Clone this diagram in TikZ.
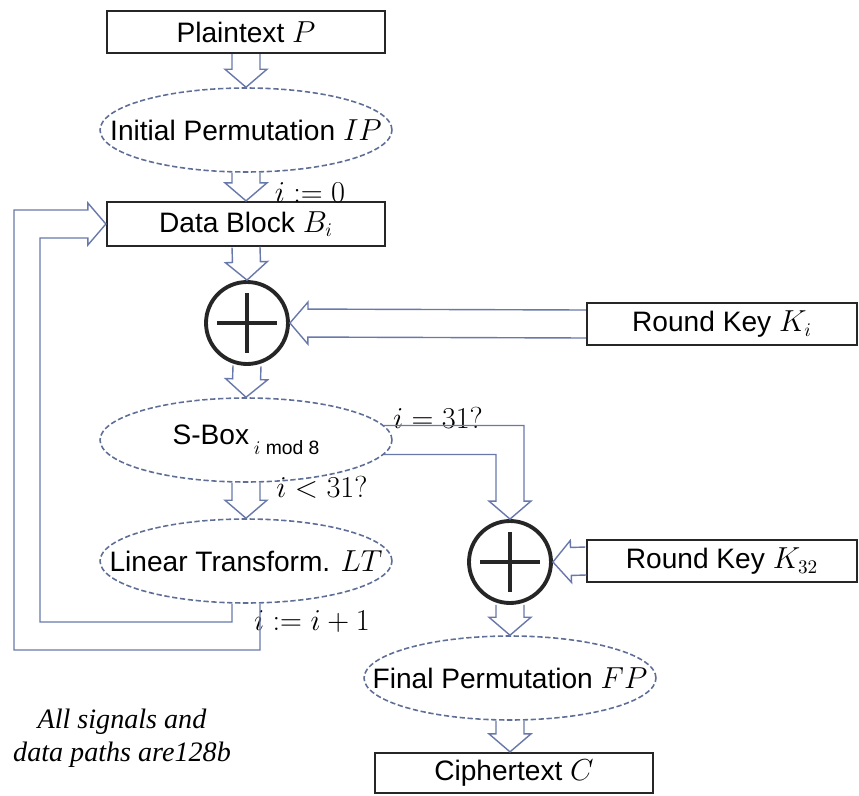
\documentclass[tikz,border=0pt]{standalone}
\usepackage{fontspec}
\setmainfont{Liberation Sans}
\newfontfamily\notefont{Liberation Serif}
\usetikzlibrary{calc,shapes.geometric}
\definecolor{pipeblue}{RGB}{105,120,170}
\definecolor{dashblue}{RGB}{95,110,150}

% outlined (hollow) arrow from #1 to #2
\newcommand\hollowarrow[2]{%
  \coordinate (hb) at ($(#2)!0.36cm!(#1)$);
  \draw[pipe] ($(#1)!0.28cm!90:(#2)$) -- ($(hb)!0.28cm!90:(#2)$)
    -- ($(hb)!0.42cm!90:(#2)$) -- (#2) -- ($(hb)!0.42cm!-90:(#2)$)
    -- ($(hb)!0.28cm!-90:(#2)$) -- ($(#1)!0.28cm!-90:(#2)$);}

\begin{document}
\begin{tikzpicture}[x=0.02cm,y=-0.02cm,
  font=\fontsize{16}{19}\selectfont,
  box/.style={draw=black!85,line width=1.3pt,minimum width=5.56cm,
              minimum height=0.84cm,inner sep=0pt},
  perm/.style={ellipse,draw=dashblue,dash pattern=on 3pt off 1.5pt,
               line width=0.9pt,minimum width=5.84cm,minimum height=1.68cm,
               inner sep=0pt},
  xor/.style={circle,draw=black!85,line width=2.2pt,minimum size=1.64cm,
              inner sep=0pt,
              path picture={\draw[line width=2.4pt,black!85]
                ($(path picture bounding box.west)!0.14!(path picture bounding box.east)$)
                -- ($(path picture bounding box.east)!0.14!(path picture bounding box.west)$)
                ($(path picture bounding box.north)!0.14!(path picture bounding box.south)$)
                -- ($(path picture bounding box.south)!0.14!(path picture bounding box.north)$);}},
  pipe/.style={draw=pipeblue,line width=0.8pt,line join=miter},
  cond/.style={inner sep=1pt},
  note/.style={font=\notefont\itshape\fontsize{16}{19}\selectfont,align=center}
]
\useasboundingbox (0,0) rectangle (859,795);

\node[box] (pt) at (246,32) {Plaintext $P$};
\node[perm,label=center:{Initial Permutation $IP$}] (ip) at (246,130) {};
\node[box,minimum height=0.88cm] (db) at (246,224) {Data Block $B_i$};
\node[xor] (x1) at (247,323) {};
\node[box,minimum width=5.4cm] (key1) at (722,324) {Round Key $K_i$};
\node[perm,label=center:{S-Box\,\raisebox{-0.7ex}{\fontsize{11}{13}\selectfont$i$ mod 8}}] (sbox) at (246,440) {};
\node[perm,label=center:{Linear Transform. $LT$}] (lt) at (246,561) {};
\node[xor] (x2) at (510,562) {};
\node[box,minimum width=5.4cm] (key2) at (722,561) {Round Key $K_{32}$};
\node[perm,label=center:{Final Permutation $FP$}] (fp) at (510,678) {};
\node[box,minimum height=0.8cm] (ct) at (514,773) {Ciphertext $C$};

\node[cond] (l0) at (310,193) {$i := 0$};
\node[cond] (l31) at (438,418) {$i = 31?$};
\node[cond] (llt) at (322,487) {$i < 31?$};
\node[cond] (linc) at (312,622) {$i := i + 1$};
\node[note] (nb) at (122,738) {All signals and\\data paths are128b};

\hollowarrow{pt.south}{ip.north}
\hollowarrow{ip.south}{db.north}
\hollowarrow{db.south}{x1.north}
\hollowarrow{key1.west}{x1.east}
\hollowarrow{x1.south}{sbox.north}
\hollowarrow{sbox.south}{lt.north}
\hollowarrow{key2.west}{x2.east}
\hollowarrow{x2.south}{fp.north}
\coordinate (ctin) at (fp.south |- ct.north);
\hollowarrow{fp.south}{ctin}

% i = 31: leave the loop
\draw[pipe] (sbox.6) -| ([xshift=0.28cm,yshift=0.36cm]x2.north)
  -- ([xshift=0.42cm,yshift=0.36cm]x2.north) -- (x2.north)
  -- ([xshift=-0.42cm,yshift=0.36cm]x2.north)
  -- ([xshift=-0.28cm,yshift=0.36cm]x2.north) |- (sbox.-6);

% feedback to the data block
\draw[pipe] ([xshift=0.28cm]lt.south) |- (14,650)
  |- ([xshift=-0.36cm,yshift=0.28cm]db.west)
  -- ([xshift=-0.36cm,yshift=0.42cm]db.west) -- (db.west)
  -- ([xshift=-0.36cm,yshift=-0.42cm]db.west)
  -- ([xshift=-0.36cm,yshift=-0.28cm]db.west) -| (40,622)
  -| ([xshift=-0.28cm]lt.south);
\end{tikzpicture}
\end{document}
